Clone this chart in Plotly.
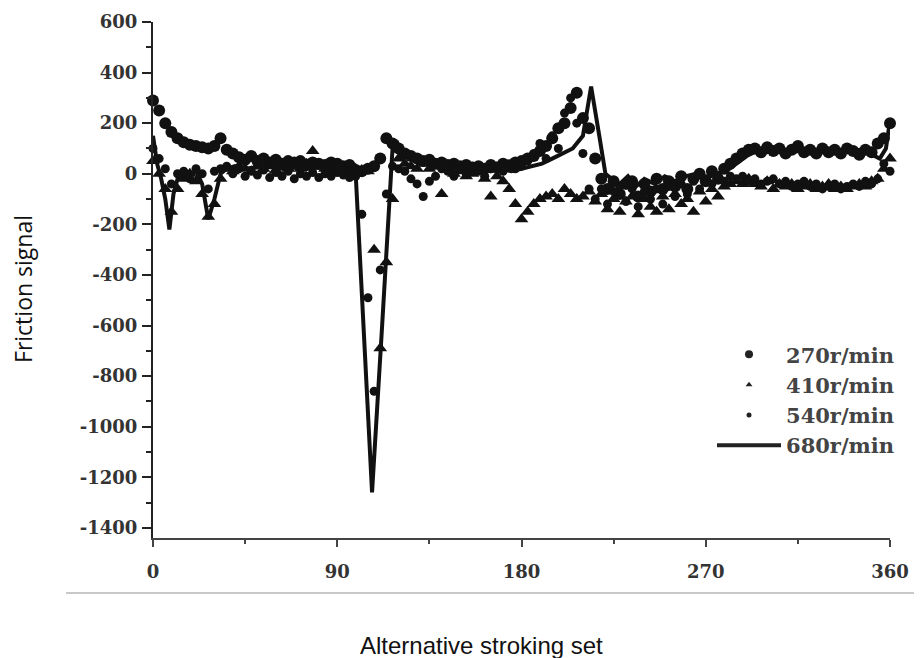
import plotly.graph_objects as go

# ---------------- data ----------------
angle = list(range(0, 361, 3))

rpm270 = [290, 250, 200, 165, 140, 125, 115, 110, 105, 100, 110, 140, 95, 80, 65, 55,
          70, 50, 60, 45, 55, 40, 50, 45, 50, 35, 45, 40, 35, 45, 40, 30, 35, 15, 10, 20,
          30, 60, 140, 120, 100, 80, 70, 60, 50, 55, 40, 45, 35, 40, 30, 35, 25, 30, 20,
          35, 25, 40, 30, 45, 50, 60, 70, 90, 110, 140, 180, 200, 260, 320, 220, 180, 60,
          -20, -60, -30, -80, -40, -30, -90, -40, -70, -20, -60, -30, -50, -10, -60, -20,
          0, -30, 10, -20, 20, 40, 60, 80, 95, 100, 85, 105, 90, 100, 80, 95, 110, 85, 95, 80,
          100, 85, 95, 80, 100, 90, 75, 95, 85, 120, 140, 200]

rpm410 = [50, 0, -60, -150, -60, -20, 0, -30, -80, -170, -120, -20, 20, 10, 30, 20,
          10, 30, 20, 30, 15, 25, 20, 30, 20, 40, 90, 30, 20, 15, 25, 20, 10, 20, 15, 10,
          -300, -690, -350, -100, 60, 40, 30, 20, 40, 20, 30, -80, 20, 0, 10, -10, 0, 10,
          -20, -90, -10, -30, -60, -120, -180, -150, -120, -100, -90, -80, -100, -60, -80,
          -100, -90, -70, -110, -80, -140, -100, -150, -110, -90, -160, -100, -130, -150,
          -90, -140, -80, -120, -100, -150, -70, -110, -60, -90, -50, -40, -30, -40, -20,
          -40, -50, -30, -60, -40, -50, -40, -60, -50, -40, -60, -50, -40, -60, -50, -60,
          -50, -40, -50, -30, -20, 20, 60]

rpm540 = [100, 60, 20, -40, 0, 10, -20, 20, 0, -60, 10, 20, 30, 0, 20, -10,
          10, -5, 15, -15, 5, -10, 10, -20, 0, -10, 5, -15, 0, -10, 5, -5, -15, -10, -160,
          -490, -860, -380, -80, 30, 20, 10, -20, -40, -90, -30, -10, 20, 10, -10, 20, 0,
          30, 10, -10, 20, 30, 10, 40, 20, 30, 50, 80, 120, 60, 150, 100, 240, 300, 200,
          80, -60, -100, -60, -120, -70, -50, -110, -60, -130, -70, -100, -60, -120, -50, -90,
          -40, -80, -30, -60, -20, -40, -10, -30, -10, -20, -10, -30, -20, -40, -30, -20,
          -40, -30, -50, -40, -30, -50, -40, -60, -50, -40, -60, -50, -40, -50, -30, -40,
          -20, 40, 10]

line_angle = [0, 2, 4, 6, 8, 10, 12, 15, 18, 21, 24, 27, 30, 33, 36, 40, 45, 50, 55,
              60, 65, 70, 75, 80, 85, 90, 95, 99, 103, 107, 112, 117, 119, 121, 125,
              130, 135, 140, 145, 150, 155, 160, 165, 170, 175, 180, 185, 190, 195, 200,
              205, 210, 214, 218, 221, 224, 228, 232, 236, 240, 245, 250, 255, 260, 265,
              270, 275, 280, 285, 290, 295, 300, 305, 310, 315, 320, 325, 330, 335, 340,
              345, 350, 355, 358, 360]
rpm680 = [150, 40, -20, -100, -220, -80, -20, 0, -10, 10, -40, -180, -100, 0, 20, 30,
          20, 25, 30, 25, 20, 25, 20, 25, 20, 25, 15, 0, -630, -1260, -590, 100, 130, 90,
          60, 50, 40, 30, 35, 20, 30, 20, 10, 20, 10, 20, 30, 40, 60, 80, 100, 150, 345,
          150, 0, -20, -40, -10, -50, -20, -40, -10, -30, -10, 0, -20, 0, 10, 40, 70, 90,
          85, 95, 80, 90, 85, 95, 80, 90, 85, 95, 80, 60, 100, 210]

x_ticks = [0, 90, 180, 270, 360]
x_ticktext = ["0", "90", "180", "270", "360"]
y_ticks = [600, 400, 200, 0, -200, -400, -600, -800, -1000, -1200, -1400]
y_ticktext = ["600", "400", "200", "0", "-200", "-400", "-600", "-800", "-1000", "-1200", "-1400"]

names = ["270r/min", "410r/min", "540r/min", "680r/min"]

# ---------------- figure ----------------
ink = "#111"
fig = go.Figure()
fig.add_trace(go.Scatter(x=angle, y=rpm270, mode="markers", showlegend=False,
                         marker=dict(symbol="circle", size=12, color=ink), cliponaxis=False))
fig.add_trace(go.Scatter(x=angle, y=rpm410, mode="markers", showlegend=False,
                         marker=dict(symbol="triangle-up", size=12, color=ink), cliponaxis=False))
fig.add_trace(go.Scatter(x=angle, y=rpm540, mode="markers", showlegend=False,
                         marker=dict(symbol="circle", size=9, color=ink), cliponaxis=False))
fig.add_trace(go.Scatter(x=line_angle, y=rpm680, mode="lines", showlegend=False,
                         line=dict(color=ink, width=4), cliponaxis=False))

# legend entries (smaller symbols, as in the printed legend)
legend_symbols = [("circle", 8), ("triangle-up", 6), ("circle", 5)]
for i, (sym, sz) in enumerate(legend_symbols):
    fig.add_trace(go.Scatter(x=[None], y=[None], mode="markers", name=names[i],
                             legendgroup=names[i],
                             marker=dict(symbol=sym, size=sz, color="#222")))
fig.add_trace(go.Scatter(x=[None], y=[None], mode="lines", name=names[3],
                         legendgroup=names[3], line=dict(color="#222", width=4)))

tick_font = dict(family="DejaVu Serif", size=18, color="#333", weight="bold")

fig.update_layout(
    width=914, height=650,
    margin=dict(l=145, r=32, t=14, b=120),
    paper_bgcolor="white", plot_bgcolor="white",
    showlegend=True,
    legend=dict(x=0.7585, xanchor="left", y=0.395, yanchor="top",
                font=dict(family="DejaVu Serif", size=21, color="#444", weight="bold"),
                bgcolor="rgba(0,0,0,0)", itemwidth=64, tracegroupgap=0),
    xaxis=dict(range=[0, 360], tickvals=x_ticks, ticktext=x_ticktext, automargin=False,
               showgrid=False, zeroline=False, showline=True, linecolor="#444", linewidth=2,
               ticks="outside", ticklen=7, tickwidth=2, tickcolor="#444",
               ticklabelstandoff=9, tickfont=tick_font,
               minor=dict(dtick=45, ticks="outside", ticklen=4, tickcolor="#444", tickwidth=2)),
    yaxis=dict(range=[-1440, 600], tickvals=y_ticks, ticktext=y_ticktext, automargin=False,
               showgrid=False, zeroline=False, showline=True, linecolor="#222", linewidth=2,
               ticks="outside", ticklen=9, tickwidth=2, tickcolor="#222",
               ticklabelstandoff=1, tickfont=tick_font,
               minor=dict(dtick=100, tick0=0, ticks="outside", ticklen=5, tickcolor="#222", tickwidth=2)),
    shapes=[dict(type="line", xref="paper", yref="paper", x0=-0.118, x1=1.05,
                 y0=-0.1066, y1=-0.1066, line=dict(color="#c8c8c8", width=2))],
    annotations=[
        dict(text="Friction signal", xref="paper", yref="paper", x=-0.1764, y=0.4826,
             textangle=-90, showarrow=False, xanchor="center", yanchor="middle",
             font=dict(family="Open Sans", size=23, color="#111")),
        dict(text="Alternative stroking set", xref="paper", yref="paper", x=0.4464, y=-0.2074,
             showarrow=False, xanchor="center", yanchor="middle",
             font=dict(family="Liberation Sans", size=24, color="#111")),
    ],
)

fig.write_html("out.html")
